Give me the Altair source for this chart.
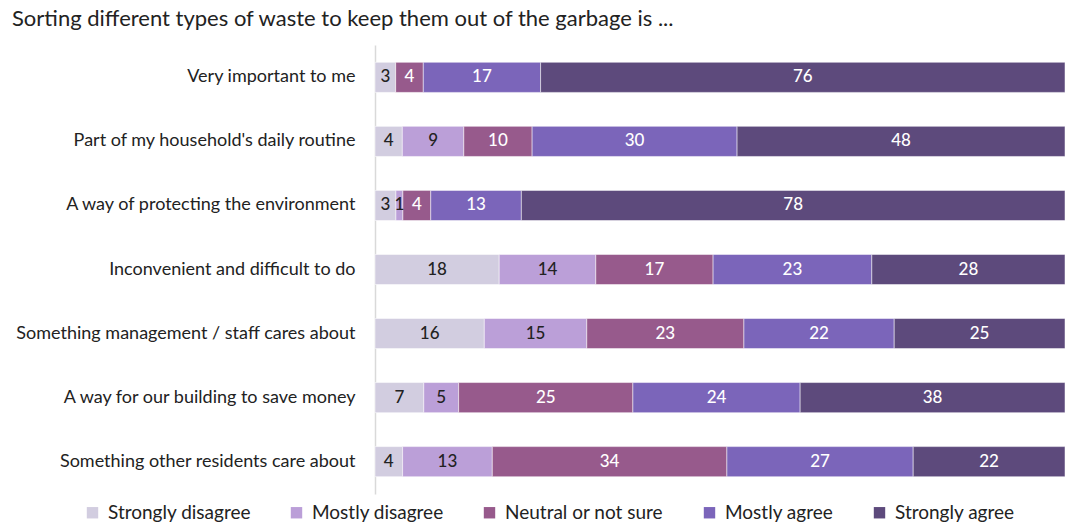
import altair as alt
import pandas as pd

statements = [
    "Very important to me",
    "Part of my household's daily routine",
    "A way of protecting the environment",
    "Inconvenient and difficult to do",
    "Something management / staff cares about",
    "A way for our building to save money",
    "Something other residents care about",
]
responses = ["Strongly disagree", "Mostly disagree", "Neutral or not sure", "Mostly agree", "Strongly agree"]
colors = ["#d2cde0", "#bb9fd8", "#975a8c", "#7b65ba", "#5d4a7c"]
text_colors = ["#222222", "#222222", "#ffffff", "#ffffff", "#ffffff"]

strongly_disagree = [3, 4, 3, 18, 16, 7, 4]
mostly_disagree = [0, 9, 1, 14, 15, 5, 13]
neutral = [4, 10, 4, 17, 23, 25, 34]
mostly_agree = [17, 30, 13, 23, 22, 24, 27]
strongly_agree = [76, 48, 78, 28, 25, 38, 22]

series = [strongly_disagree, mostly_disagree, neutral, mostly_agree, strongly_agree]
rows = []
for ri, (resp, vals) in enumerate(zip(responses, series)):
    for s, v in zip(statements, vals):
        rows.append({"statement": s, "response": resp, "order": ri, "value": v,
                     "tcolor": text_colors[ri]})
df = pd.DataFrame(rows)

FONT = "Lato"

base = alt.Chart(df).transform_stack(
    stack="value", groupby=["statement"], as_=["x0", "x1"], offset="normalize",
    sort=[alt.SortField("order", order="ascending")]
).transform_calculate(mid="(datum.x0 + datum.x1) / 2")

y = alt.Y("statement:N", sort=statements, title=None,
          scale=alt.Scale(paddingInner=0.53, paddingOuter=0.27),
          axis=alt.Axis(ticks=False, domainColor="#d9d9d9", domainWidth=1.5,
                        labelFont=FONT, labelFontSize=18, labelColor="#222222",
                        labelPadding=20, labelLimit=400))
xs = alt.Scale(domain=[0, 1], nice=False, clamp=True)

bars = base.mark_bar(stroke="#ffffff", strokeWidth=0.5, clip=True).encode(
    x=alt.X("x0:Q", scale=xs, axis=None),
    x2="x1:Q",
    y=y,
    color=alt.Color("response:N", sort=responses,
                    scale=alt.Scale(domain=responses, range=colors),
                    legend=alt.Legend(title=None, orient="none", direction="horizontal",
                                      legendX=-292, legendY=458,
                                      symbolType="square", symbolSize=130,
                                      symbolStrokeWidth=0,
                                      labelFont=FONT, labelFontSize=19, labelColor="#222222",
                                      labelLimit=400,
                                      columnPadding=36, labelOffset=6)),
)

texts = base.transform_filter("datum.value > 0").mark_text(
    font=FONT, fontSize=17, fontWeight=500
).encode(
    x=alt.X("mid:Q", scale=xs, axis=None),
    y=alt.Y("statement:N", sort=statements),
    text="value:Q",
    color=alt.Color("tcolor:N", scale=None),
)

chart = alt.layer(bars, texts).properties(
    width=690, height=449,
    autosize=alt.AutoSizeParams(type="none"),
    padding={"left": 375, "top": 45, "right": 0, "bottom": 31},
    title=alt.Title("Sorting different types of waste to keep them out of the garbage is ...",
                    anchor="start", frame="group", dx=-363, dy=-10,
                    font=FONT, fontSize=22, fontWeight="normal", color="#222222"),
).configure_view(stroke=None)

chart.save("out.html", embed_options={"renderer": "svg", "actions": False})
